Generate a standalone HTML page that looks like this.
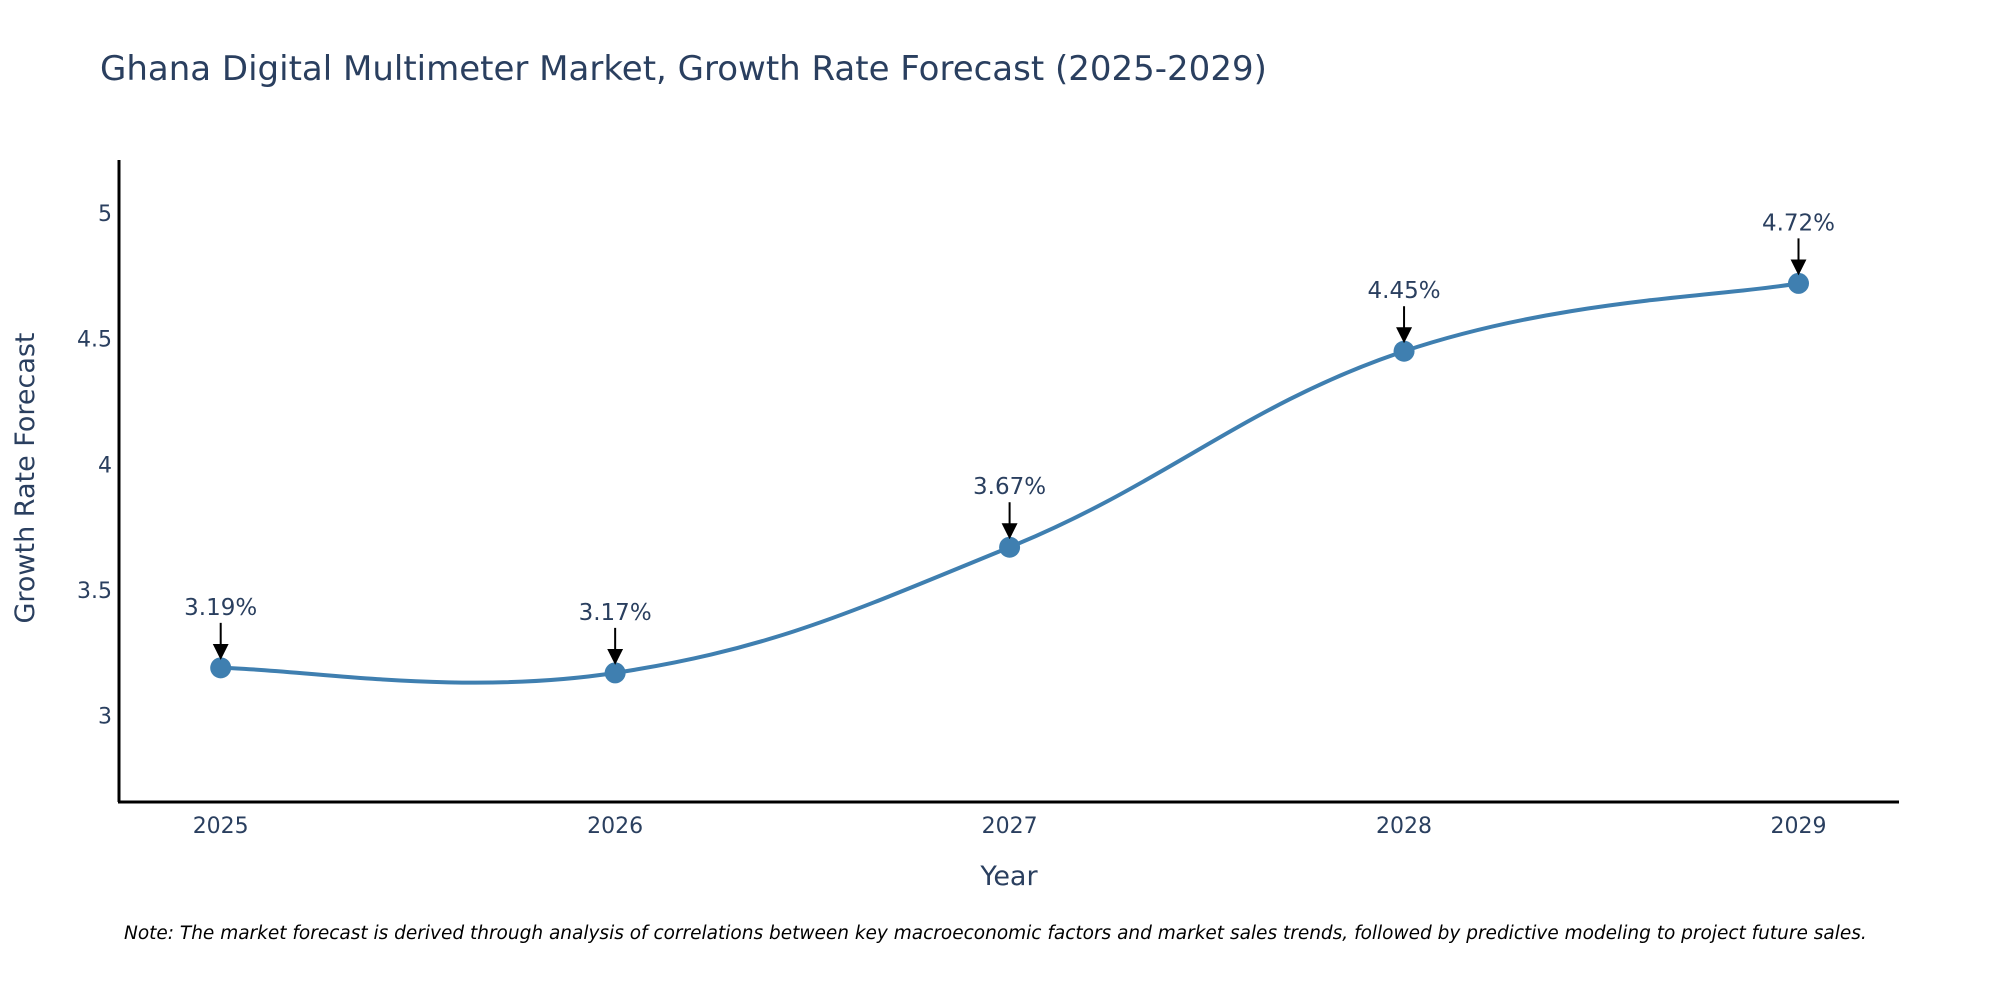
<!DOCTYPE html>
<html><head><meta charset="utf-8"><style>
body{margin:0;background:#fff}
svg{display:block;font-family:"DejaVu Sans","Liberation Sans",sans-serif}
</style></head><body>
<svg width="2000" height="1000" viewBox="0 0 2000 1000">
<text x="100" y="80" font-size="34" fill="#2a3f5f">Ghana Digital Multimeter Market, Growth Rate Forecast (2025-2029)</text>
<g id="plot"></g>
<line x1="119" y1="160" x2="119" y2="802" stroke="#000" stroke-width="3"/>
<line x1="118" y1="802" x2="1899" y2="802" stroke="#000" stroke-width="3"/>
<text x="1009" y="885" font-size="27" fill="#2a3f5f" text-anchor="middle">Year</text>
<text transform="translate(34,478) rotate(-90)" font-size="27" fill="#2a3f5f" text-anchor="middle">Growth Rate Forecast</text>
<text x="124" y="939" font-size="18.5" font-style="italic" fill="#000">Note: The market forecast is derived through analysis of correlations between key macroeconomic factors and market sales trends, followed by predictive modeling to project future sales.</text>
</svg>
<script>
const years = [2025, 2026, 2027, 2028, 2029];
const values = [3.19, 3.17, 3.67, 4.45, 4.72];
const labels = ["3.19%", "3.17%", "3.67%", "4.45%", "4.72%"];
const yTicks = [3, 3.5, 4, 4.5, 5];
const yTickLabels = ["3", "3.5", "4", "4.5", "5"];

const NS = "http://www.w3.org/2000/svg";
const g = document.getElementById('plot');
const xs = y => 220.7 + (y - 2025) * (1798.5 - 220.7) / 4;
const ys = v => 715.6 - (v - 3) * (715.6 - 213) / 2;
function mk(tag, attrs, parent){const e=document.createElementNS(NS,tag);for(const k in attrs)e.setAttribute(k,attrs[k]);(parent||g).appendChild(e);return e;}

const defs = mk('defs', {});
const mrk = mk('marker', {id:'ah', markerWidth:'8', markerHeight:'8', refX:'4', refY:'4', orient:'auto', markerUnits:'strokeWidth'}, defs);
mk('path', {d:'M0,0 L8,4 L0,8 z', fill:'#000'}, mrk);

yTicks.forEach((t, i) => {
  const tx = mk('text', {x:112, y:ys(t)+8, 'font-size':22, fill:'#2a3f5f', 'text-anchor':'end'});
  tx.textContent = yTickLabels[i];
  
  
});
years.forEach(y => {
  const tx = mk('text', {x:xs(y), y:833, 'font-size':22, fill:'#2a3f5f', 'text-anchor':'middle'});
  tx.textContent = y;
  
  
});

const P = years.map((y, i) => [xs(y), ys(values[i])]);
let d = `M${P[0][0]},${P[0][1]}`;
for (let i = 0; i < P.length - 1; i++) {
  const p0 = P[Math.max(0, i-1)], p1 = P[i], p2 = P[i+1], p3 = P[Math.min(P.length-1, i+2)];
  const t = 1/5;
  const c1 = [p1[0] + (p2[0]-p0[0])*t, p1[1] + (p2[1]-p0[1])*t];
  const c2 = [p2[0] - (p3[0]-p1[0])*t, p2[1] - (p3[1]-p1[1])*t];
  d += ` C${c1[0]},${c1[1]} ${c2[0]},${c2[1]} ${p2[0]},${p2[1]}`;
}
const line = mk('path', {d:d, fill:'none', stroke:'#3f7fb0', 'stroke-width':4});



P.forEach((p, i) => {
  const c = mk('circle', {cx:p[0], cy:p[1], r:10.5, fill:'#3f7fb0'});
  
  
  const a = mk('line', {x1:p[0], y1:p[1]-45, x2:p[0], y2:p[1]-16, stroke:'#000', 'stroke-width':2, 'marker-end':'url(#ah)'});
  
  
  const tx = mk('text', {x:p[0], y:p[1]-53, 'font-size':23, fill:'#2a3f5f', 'text-anchor':'middle'});
  tx.textContent = labels[i];
  
  
});
</script>
</body></html>
